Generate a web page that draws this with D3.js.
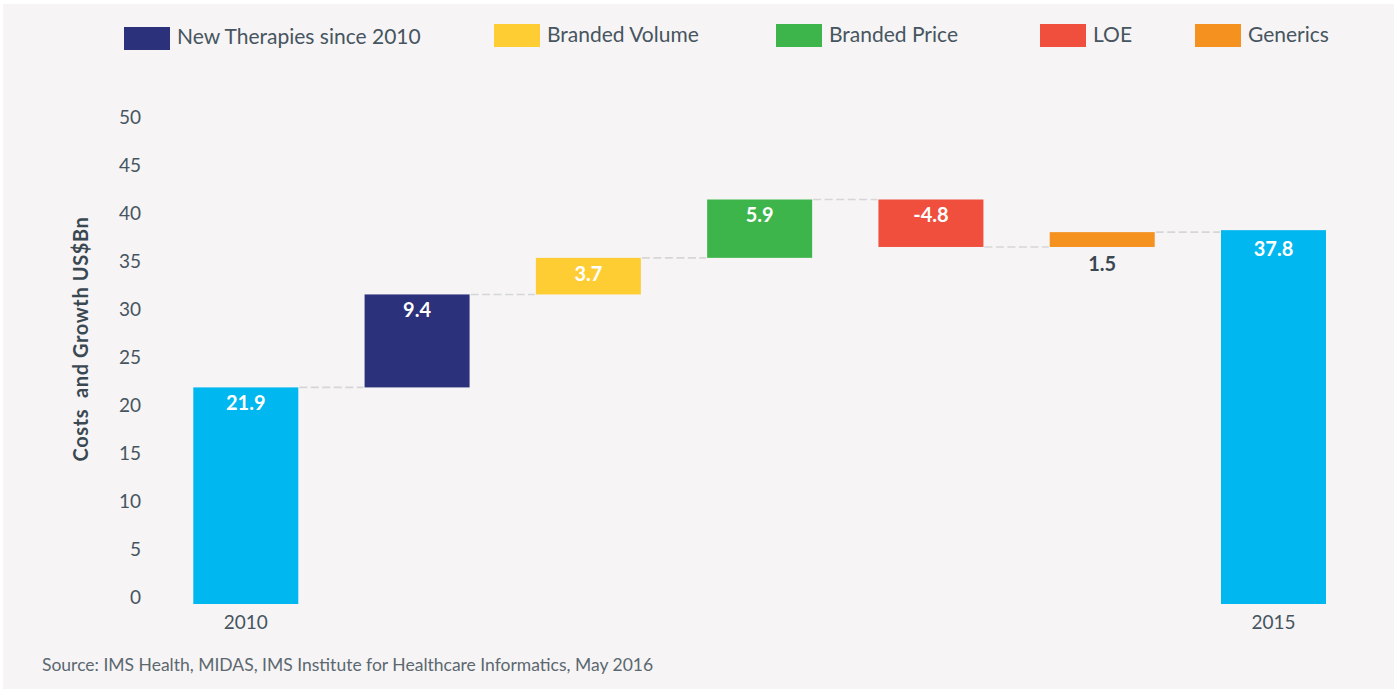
<!DOCTYPE html>
<html>
<head>
<meta charset="utf-8">
<script src="https://cdn.jsdelivr.net/npm/d3@7"></script>
<style>
  html, body { margin: 0; padding: 0; background: #ffffff; }
  svg { display: block; }
  text { font-family: Lato, "Open Sans", sans-serif; }
</style>
</head>
<body>
<svg id="chart" width="1395" height="691"></svg>
<script>
// ---- data ----
const categories = ["2010", "New Therapies since 2010", "Branded Volume", "Branded Price", "LOE", "Generics", "2015"];
const values = [21.9, 9.4, 3.7, 5.9, -4.8, 1.5, 37.8];
const kinds = ["total", "delta", "delta", "delta", "delta", "delta", "total"];
const barColors = ["#00b7ef", "#2b317b", "#fecd34", "#3db54b", "#f04f3e", "#f5921f", "#00b7ef"];
const axisLabels = ["2010", "", "", "", "", "", "2015"];
const legendNames = ["New Therapies since 2010", "Branded Volume", "Branded Price", "LOE", "Generics"];
const legendColors = ["#2b317b", "#fecd34", "#3db54b", "#f04f3e", "#f5921f"];
const yTicks = [0, 5, 10, 15, 20, 25, 30, 35, 40, 45, 50];
const yTitle = "Costs\u00a0 and Growth US$Bn";
const sourceText = "Source: IMS Health, MIDAS, IMS Institute for Healthcare Informatics, May 2016";

// ---- build running totals ----
let run = 0;
const bars = categories.map((c, i) => {
  let start, end;
  if (kinds[i] === "total") { start = 0; end = values[i]; run = values[i]; }
  else { start = run; end = run + values[i]; run = end; }
  return { cat: c, value: values[i], start, end, color: barColors[i], i };
});

const svg = d3.select("#chart");
svg.append("rect").attr("x", 3).attr("y", 4).attr("width", 1391).attr("height", 685).attr("fill", "#f6f4f5");

const textColor = "#46555f";

const x = d3.scaleBand().domain(categories).range([193.3, 1326]).paddingInner(0.387).paddingOuter(0);
const yBar = d3.scaleLinear().domain([0, 50]).range([604, 109.5]);
const yAxisScale = d3.scaleLinear().domain([0, 50]).range([597, 117.5]);

// y axis labels
const gy = svg.append("g").attr("transform", "translate(141,0)")
  .call(d3.axisLeft(yAxisScale).tickValues(yTicks).tickSize(0).tickPadding(0));
gy.select(".domain").remove();
gy.selectAll("text").attr("fill", textColor).style("font-size", "19px").style("font-family", "Lato, sans-serif");

// x axis labels
const gx = svg.append("g").attr("transform", "translate(0,604)")
  .call(d3.axisBottom(x).tickFormat((d, i) => axisLabels[i]).tickSize(0).tickPadding(12));
gx.select(".domain").remove();
gx.selectAll("text").attr("fill", textColor).style("font-size", "19px").style("font-family", "Lato, sans-serif");

// connectors
const conns = bars.slice(0, -1).map((b, i) => ({ x1: x(b.cat) + x.bandwidth(), x2: x(categories[i + 1]), level: b.end }));
svg.append("g").selectAll("line").data(conns).join("line")
  .attr("x1", d => d.x1 + 1).attr("x2", d => d.x2 - 1)
  .attr("y1", d => yBar(d.level)).attr("y2", d => yBar(d.level))
  .attr("stroke", "#d6d6d8").attr("stroke-width", 1.6).attr("stroke-dasharray", "8,3.5");

// bars
svg.append("g").selectAll("rect").data(bars).join("rect")
  .attr("x", d => x(d.cat))
  .attr("width", x.bandwidth())
  .attr("y", d => yBar(Math.max(d.start, d.end)))
  .attr("height", d => Math.abs(yBar(d.start) - yBar(d.end)))
  .attr("fill", d => d.color);

// value labels
svg.append("g").selectAll("text").data(bars).join("text")
  .attr("x", d => x(d.cat) + x.bandwidth() / 2)
  .attr("y", d => {
    const top = yBar(Math.max(d.start, d.end));
    const bot = yBar(Math.min(d.start, d.end));
    if (d.cat === "Generics") return bot + 24;
    if (d.i === 6) return top + 26;
    return top + 23;
  })
  .attr("text-anchor", "middle")
  .attr("fill", d => d.cat === "Generics" ? "#3a4852" : "#ffffff")
  .style("font-size", "20px").style("font-weight", "700")
  .text(d => d.value.toFixed(1));

// y title
svg.append("text")
  .attr("transform", "translate(88,339) rotate(-90)")
  .attr("text-anchor", "middle")
  .attr("fill", "#3a4852")
  .style("font-size", "20px").style("font-weight", "700").style("letter-spacing", "0.6px")
  .text(yTitle);

// legend
const legendX = [124, 494, 776, 1040, 1195];
const legendSwY = [27, 24, 24, 24, 24];
const lg = svg.append("g").selectAll("g").data(legendNames).join("g")
  .attr("transform", (d, i) => `translate(${legendX[i]},0)`);
lg.append("rect").attr("x", 0).attr("y", (d, i) => legendSwY[i]).attr("width", 46).attr("height", 23)
  .attr("fill", (d, i) => legendColors[i]);
lg.append("text").attr("x", 53).attr("y", (d, i) => i === 0 ? 44 : 41.5)
  .attr("fill", textColor).style("font-size", "21px").text(d => d);

// source
svg.append("text").attr("x", 42).attr("y", 671).attr("fill", "#5b6870")
  .style("font-size", "17.5px").text(sourceText);
</script>
</body>
</html>
